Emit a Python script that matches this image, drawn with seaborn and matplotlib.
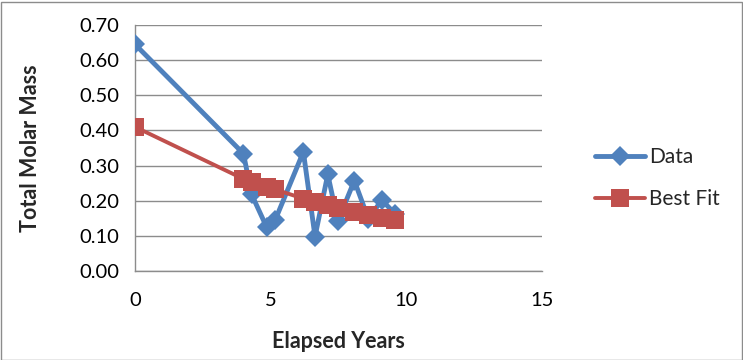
import matplotlib
matplotlib.use("Agg")
import matplotlib.pyplot as plt
import seaborn as sns
import pandas as pd
from matplotlib.patches import Rectangle

years = [0.0, 4.0, 4.3, 4.86, 5.17, 6.21, 6.64, 7.11, 7.48, 8.09, 8.61, 9.1, 9.59]
data_mass = [0.645, 0.334, 0.218, 0.124, 0.145, 0.339, 0.098, 0.275, 0.142, 0.257, 0.148, 0.202, 0.163]
fit_mass = [0.41, 0.262, 0.254, 0.240, 0.232, 0.206, 0.197, 0.187, 0.180, 0.168, 0.159, 0.151, 0.144]
xticks = [0, 5, 10, 15]
yticks = [0.0, 0.1, 0.2, 0.3, 0.4, 0.5, 0.6, 0.7]

sns.set_theme(style="white")
plt.rcParams['font.family'] = ['Lato', 'DejaVu Sans']

df = pd.DataFrame({"Elapsed Years": years * 2,
                   "Mass": data_mass + fit_mass,
                   "Series": ["Data"] * len(years) + ["Best Fit"] * len(years)})

fig = plt.figure(figsize=(7.43, 3.6), dpi=100)
ax = fig.add_axes([135 / 743, 1 - 271 / 360, (541.7 - 135) / 743, (271 - 25) / 360])

blue = "#4F81BD"
red = "#C0504D"
sns.lineplot(data=df[df.Series == "Data"], x="Elapsed Years", y="Mass", sort=False,
             color=blue, lw=3.5, marker="D", markersize=10.5, markeredgewidth=0,
             ax=ax, label="Data", zorder=3)
sns.lineplot(data=df[df.Series == "Best Fit"], x="Elapsed Years", y="Mass", sort=False,
             color=red, lw=2.8, marker="s", markersize=12.5, markeredgewidth=0,
             ax=ax, label="Best Fit", zorder=4)

ax.set_xlim(0, 15)
ax.set_ylim(0, 0.7)
ax.set_xticks(xticks)
ax.set_xticklabels([str(t) for t in xticks])
ax.set_yticks(yticks)
ax.set_yticklabels([f"{t:.2f}" for t in yticks])
ax.yaxis.grid(True, color="#8c8c8c", lw=1.0)
ax.xaxis.grid(False)
for s in ["top", "right"]:
    ax.spines[s].set_visible(False)
for s in ["left", "bottom"]:
    ax.spines[s].set_color("#8c8c8c")
    ax.spines[s].set_linewidth(1.0)
ax.tick_params(axis="both", which="both", direction="out", length=5, width=1,
               color="#8c8c8c", labelsize=14.5, labelcolor="black")
ax.tick_params(axis="x", pad=10)
ax.tick_params(axis="y", pad=6)
ax.set_xlabel("Elapsed Years", fontsize=15.5, fontweight="bold", labelpad=16)
ax.set_ylabel("Total Molar Mass", fontsize=15.5, fontweight="bold", labelpad=28)

leg = ax.legend(loc="center left", bbox_to_anchor=(576 / 743, 1 - 178 / 360),
                bbox_transform=fig.transFigure, frameon=False, fontsize=15,
                handlelength=2.4, handletextpad=0.2, labelspacing=1.05)

fig.patches.append(Rectangle((0.5 / 743, 0.5 / 360), 741 / 743, 358 / 360,
                             transform=fig.transFigure, fill=False,
                             edgecolor="#8c8c8c", lw=1.0))

fig.savefig("out.png", dpi=100)
